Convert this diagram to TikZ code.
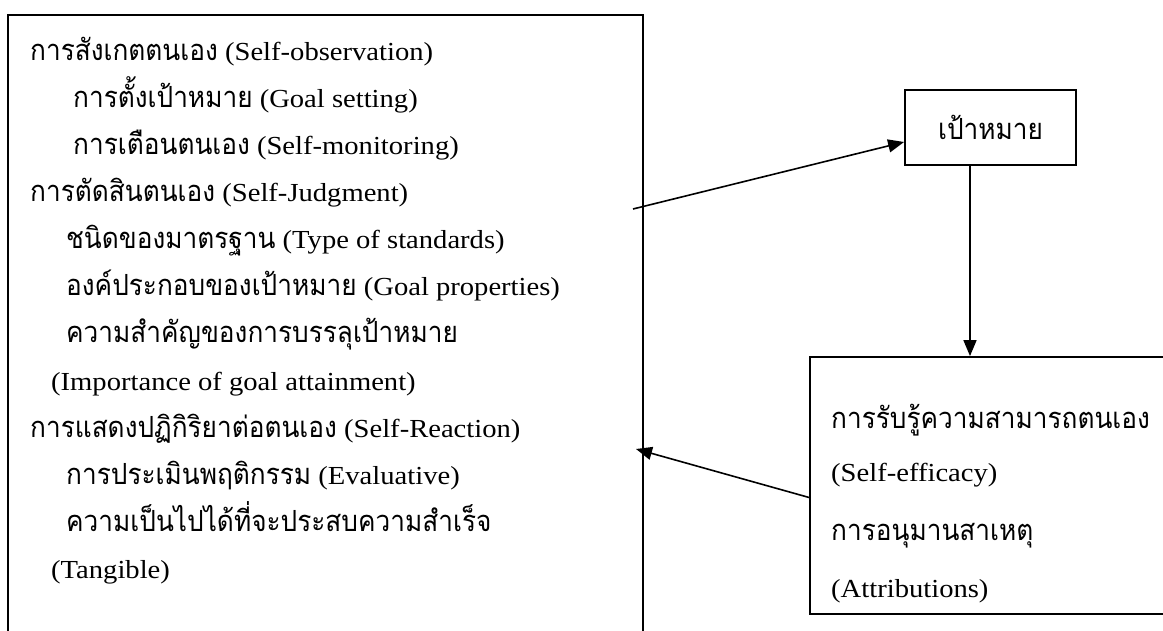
\documentclass[tikz,border=0pt]{standalone}
\usepackage{fontspec}
\setmainfont[FakeStretch=1.1]{Liberation Serif}
\newfontfamily\thaifont[Script=Thai,Scale=1.12,FakeStretch=0.9]{Loma}
\usetikzlibrary{arrows.meta}
\newcommand{\tht}[1]{{\thaifont #1}}
\begin{document}
\begin{tikzpicture}[x=1pt,y=-1pt,
  font=\fontsize{26}{30}\selectfont,
  frame/.style={draw, line width=1.8pt, inner sep=0pt},
  txt/.style={anchor=base west, inner sep=0pt},
  conn/.style={line width=1.6pt, -{Triangle[length=16pt,width=13pt]}}]
\useasboundingbox (0,0) rectangle (1163,631);
\clip (0,0) rectangle (1163,631);

% the three boxes (the outer two run past the page edge)
\node[frame, minimum width=635pt, minimum height=660pt] (selfreg) at (325.5,345) {};
\node[frame, minimum width=171pt, minimum height=75pt] (goal) at (990.5,127.5) {};
\node[frame, minimum width=390pt, minimum height=257pt] (eff) at (1005,485.5) {};

\node at (goal.center) {\tht{เป้าหมาย}};

% sub-processes of self-regulation
\node[txt] (l1)  at (30,61)  {\tht{การสังเกตตนเอง} (Self-observation)};
\node[txt] (l2)  at (73,108) {\tht{การตั้งเป้าหมาย} (Goal setting)};
\node[txt] (l3)  at (73,155) {\tht{การเตือนตนเอง} (Self-monitoring)};
\node[txt] (l4)  at (30,202) {\tht{การตัดสินตนเอง} (Self-Judgment)};
\node[txt] (l5)  at (66,249) {\tht{ชนิดของมาตรฐาน} (Type of standards)};
\node[txt] (l6)  at (66,296) {\tht{องค์ประกอบของเป้าหมาย} (Goal properties)};
\node[txt] (l7)  at (66,343) {\tht{ความสำคัญของการบรรลุเป้าหมาย}};
\node[txt] (l8)  at (51,390) {(Importance of goal attainment)};
\node[txt] (l9)  at (30,437) {\tht{การแสดงปฏิกิริยาต่อตนเอง} (Self-Reaction)};
\node[txt] (l10) at (66,484) {\tht{การประเมินพฤติกรรม} (Evaluative)};
\node[txt] (l11) at (66,531) {\tht{ความเป็นไปได้ที่จะประสบความสำเร็จ}};
\node[txt] (l12) at (51,578) {(Tangible)};

% self-efficacy and attributions
\node[txt] (r1) at (831,428) {\tht{การรับรู้ความสามารถตนเอง}};
\node[txt] (r2) at (831,481) {(Self-efficacy)};
\node[txt] (r3) at (831,540) {\tht{การอนุมานสาเหตุ}};
\node[txt] (r4) at (831,597) {(Attributions)};

% connectors
\coordinate (judge) at (633,209);
\coordinate (react) at (636,449);
\coordinate (drop) at (970,0);
\draw[conn] (judge) -- ([yshift=-14.5pt]goal.west);
\draw[conn] (goal.south -| drop) -- (eff.north -| drop);
\draw[conn] ([yshift=-12pt]eff.west) -- (react);
\end{tikzpicture}
\end{document}
